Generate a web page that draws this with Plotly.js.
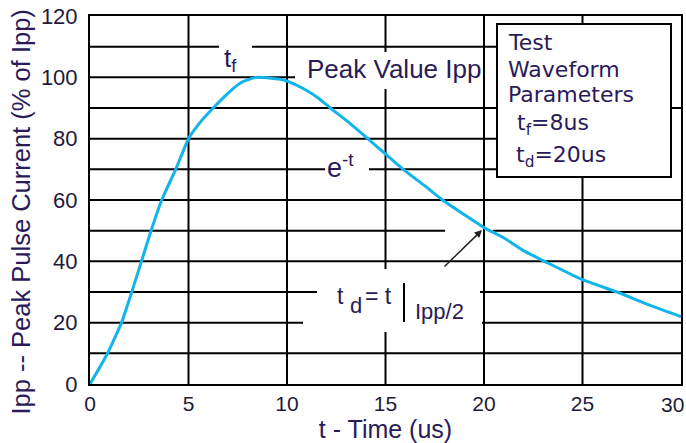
<!DOCTYPE html>
<html>
<head>
<meta charset="utf-8">
<script src="https://cdn.plot.ly/plotly-3.0.1.min.js"></script>
<style>html,body{margin:0;padding:0;background:#fff;}#chart{width:686px;height:443px;}</style>
</head>
<body>
<div id="chart"></div>
<script>
// ---- data ----
const timeUs = [0, 0.86, 1.6, 2.12, 2.61, 3.1, 3.64, 4.35, 5.0, 5.6, 6.25, 7.0, 7.6, 8.1, 8.5, 9.2, 9.8, 10.4, 11.0, 11.6, 12.2, 13.2, 14.1, 15.0, 15.9, 17.0, 17.9, 19.0, 20.0, 21.0, 22.0, 23.2, 25.0, 26.75, 28.5, 30.0];
const ippPct = [0, 9.6, 20, 30, 40, 50, 60, 70, 80, 85.4, 90, 94.8, 98, 99.4, 100, 99.7, 99.2, 97.7, 95.7, 93.2, 90, 85, 80, 75, 70, 64.6, 60, 55.2, 51, 47.7, 43.5, 39.6, 34, 30, 25.5, 22];
const xTicks = [0, 5, 10, 15, 20, 25, 30];
const xTickText = ["0", "5", "10", "15", "20", "25", "30"];
const yTicks = [0, 20, 40, 60, 80, 100, 120];
const legendLines = ["Test", "Waveform", "Parameters", "t<sub>f</sub>=8us", "t<sub>d</sub>=20us"];

// ---- layout helpers (pixel -> axis units) ----
const L = 90, R = 5, T = 16, B = 59, W = 686, H = 443;
const pw = W - L - R, ph = H - T - B;
const X = px => (px - L) * 30 / pw;
const Y = py => (T + ph - py) * 120 / ph;

const textCol = "#2a1a58";
const tickCol = "#1f1a3a";
const tickFont = {size: 21, family: 'Liberation Sans, Arial, sans-serif', color: tickCol};

// grid segments [x0,x1,y] horizontal and [x,y0,y1] vertical (in axis units, gaps around labels)
const hSeg = [
  [0, 30, 10],
  [0, X(303), 20], [X(482), 30, 20],
  [0, X(317), 30], [X(480), 30, 30],
  [0, 30, 40],
  [0, X(445), 50], [X(493), 30, 50],
  [0, 30, 60],
  [0, X(325), 70], [X(369), X(497), 70],
  [0, X(497), 80],
  [0, 30, 90],
  [0, X(295), 100],
  [0, X(219), 110], [X(252), X(497), 110]
];
const vSeg = [
  [5, 0, 120], [10, 0, 120],
  [15, 0, Y(332)], [15, Y(269), Y(89)], [15, Y(52), 120],
  [20, 0, 120], [25, 0, 120]
];

const shapes = [];
hSeg.forEach(s => shapes.push({type: 'line', xref: 'x', yref: 'y', x0: s[0], x1: s[1], y0: s[2], y1: s[2], layer: 'below', line: {color: '#000', width: 2}}));
vSeg.forEach(s => shapes.push({type: 'line', xref: 'x', yref: 'y', x0: s[0], x1: s[0], y0: s[1], y1: s[2], layer: 'below', line: {color: '#000', width: 2}}));
// legend box
shapes.push({type: 'rect', xref: 'x', yref: 'y', x0: X(497), x1: X(671), y0: Y(177), y1: Y(24), layer: 'above', fillcolor: '#fff', line: {color: '#000', width: 2}});
// evaluation bar of td = t|Ipp/2
shapes.push({type: 'line', xref: 'x', yref: 'y', x0: X(404), x1: X(404), y0: Y(322), y1: Y(283), layer: 'above', line: {color: '#000', width: 2}});

const ann = (text, px, py, size, family, color, anchor) => ({
  text: text, x: X(px), y: Y(py), xref: 'x', yref: 'y', showarrow: false,
  xanchor: anchor || 'left', yanchor: 'middle', borderpad: 0,
  font: {size: size, family: family || 'Liberation Sans, Arial, sans-serif', color: color || textCol}
});

const dv = 'DejaVu Sans, Verdana, sans-serif';
const annotations = [
  ann("t<sub>f</sub>", 223, 59, 26),
  ann("Peak Value Ipp", 306, 68.5, 26),
  ann("e<sup>-t</sup>", 326, 166, 27),
  ann("t", 336, 295.5, 23),
  ann("d", 349, 305, 22),
  ann("= t", 364, 295.5, 23),
  ann("Ipp/2", 414, 311, 22),
  ann(legendLines[0], 507, 42.4, 22, dv),
  ann(legendLines[1], 507, 69.7, 22, dv),
  ann(legendLines[2], 507, 94.7, 22, dv),
  ann(legendLines[3], 516, 124, 22, dv),
  ann(legendLines[4], 515, 156, 22, dv),
  // last x tick label, pulled inside the page edge as in the reference
  {text: xTickText[6], x: xTicks[6], xref: 'x', yref: 'paper', y: 0, yanchor: 'top', xanchor: 'right',
   xshift: 4, yshift: -8, showarrow: false, borderpad: 0, font: tickFont},
  {text: '', x: X(482), y: Y(230), xref: 'x', yref: 'y', ax: -39, ay: 38, axref: 'pixel', ayref: 'pixel',
   showarrow: true, arrowhead: 2, arrowsize: 1, arrowwidth: 1.5, arrowcolor: '#222'},
  {text: 'Ipp -- Peak Pulse Current (% of Ipp)', xref: 'paper', yref: 'paper',
   x: (20 - L) / pw, y: (T + ph - 212.5) / ph, xanchor: 'center', yanchor: 'middle', textangle: -90,
   showarrow: false, font: {size: 25.5, family: 'Liberation Sans, Arial, sans-serif', color: textCol}}
];

const trace = {
  x: timeUs, y: ippPct, type: 'scatter', mode: 'lines',
  line: {color: '#12b4ec', width: 3, shape: 'spline', smoothing: 0.45},
  hoverinfo: 'skip'
};

const layout = {
  width: W, height: H,
  margin: {l: L, r: R, t: T, b: B, pad: 0},
  paper_bgcolor: '#fff', plot_bgcolor: '#fff',
  showlegend: false,
  xaxis: {
    range: [0, 30], tickvals: xTicks.slice(0, 6), ticktext: xTickText.slice(0, 6),
    showgrid: false, zeroline: false, showline: true, mirror: true, linecolor: '#000', linewidth: 2,
    ticks: '', ticklabelstandoff: 0,
    tickfont: tickFont,
    title: {text: 't - Time (us)', standoff: 2, font: {size: 25, family: 'Liberation Sans, Arial, sans-serif', color: textCol}},
    fixedrange: true
  },
  yaxis: {
    range: [0, 120], tickvals: yTicks, ticktext: yTicks.map(String),
    showgrid: false, zeroline: false, showline: true, mirror: true, linecolor: '#000', linewidth: 2,
    ticks: '', ticklabelstandoff: 6,
    tickfont: {size: 22, family: 'Liberation Sans, Arial, sans-serif', color: tickCol},
    fixedrange: true
  },
  shapes: shapes,
  annotations: annotations
};

Plotly.newPlot('chart', [trace], layout, {displayModeBar: false, staticPlot: true});
</script>
</body>
</html>
